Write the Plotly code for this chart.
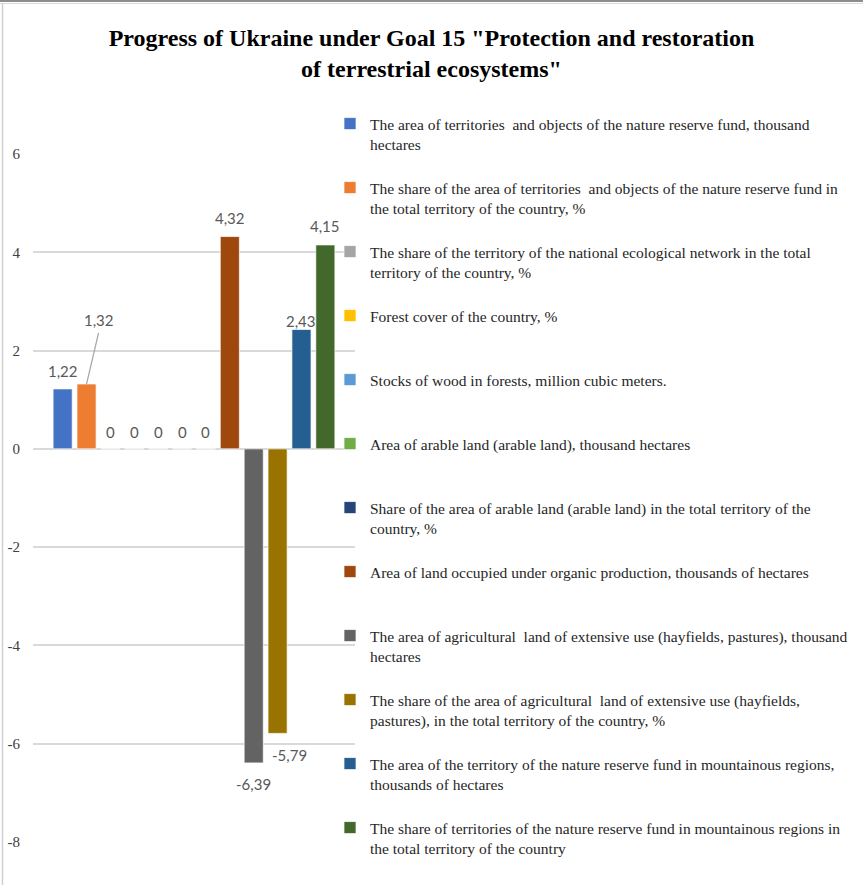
import plotly.graph_objects as go

# ---- data ---------------------------------------------------------------
indicators = [
    "The area of territories  and objects of the nature reserve fund, thousand<br>hectares",
    "The share of the area of territories  and objects of the nature reserve fund in<br>the total territory of the country, %",
    "The share of the territory of the national ecological network in the total<br>territory of the country, %",
    "Forest cover of the country, %<br> ",
    "Stocks of wood in forests, million cubic meters.<br> ",
    "Area of arable land (arable land), thousand hectares<br> ",
    "Share of the area of arable land (arable land) in the total territory of the<br>country, %",
    "Area of land occupied under organic production, thousands of hectares<br> ",
    "The area of agricultural  land of extensive use (hayfields, pastures), thousand<br>hectares",
    "The share of the area of agricultural  land of extensive use (hayfields,<br>pastures), in the total territory of the country, %",
    "The area of the territory of the nature reserve fund in mountainous regions,<br>thousands of hectares",
    "The share of territories of the nature reserve fund in mountainous regions in<br>the total territory of the country",
]
progress = [1.22, 1.32, 0, 0, 0, 0, 0, 4.32, -6.39, -5.79, 2.43, 4.15]
colors = ["#4472C4", "#ED7D31", "#A5A5A5", "#FFC000", "#5B9BD5", "#70AD47",
          "#264478", "#9E480E", "#636363", "#997300", "#255E91", "#43682B"]
y_ticks = [-8, -6, -4, -2, 0, 2, 4, 6]
y_tick_text = ["-8", "-6", "-4", "-2", "0", "2", "4", "6"]

# ---- geometry -----------------------------------------------------------
W, H = 863, 885
ML, MR, MT, MB = 33, 508, 154, 43
BARGAP, GROUPGAP = 0.11, 0.2
n = len(progress)

# label offsets (pixels) relative to the bar end: (xshift, yshift)
label_shift = [(0, 18), (12, 64), (0, 17), (0, 17), (0, 17), (0, 17), (0, 17),
               (0, 19), (0, -21), (12, -22), (0, 8), (0, 19)]


def fmt(v):
    return "0" if v == 0 else f"{v:.2f}".replace(".", ",")


def slot_center(i):
    slot = (1 - BARGAP) / n
    return -0.5 + BARGAP / 2 + (i + 0.5) * slot


fig = go.Figure()
for i, (name, val, col) in enumerate(zip(indicators, progress, colors)):
    fig.add_trace(go.Bar(
        x=["Goal 15"], y=[val], name=name, legendgroup=f"g{i}",
        marker=dict(color=col, line=dict(color="rgba(255,255,255,0.7)", width=1)),
        hoverinfo="skip",
    ))

annotations = []
for i, val in enumerate(progress):
    dx, dy = label_shift[i]
    annotations.append(dict(
        x=slot_center(i), y=val, xref="x", yref="y", text=fmt(val),
        showarrow=False, xshift=dx, yshift=dy, yanchor="middle",
        font=dict(family="Lato", size=15, color="#595959"),
    ))

shapes = [
    # leader line for the second label
    dict(type="line", xref="x", yref="y", xsizemode="pixel", ysizemode="pixel",
         xanchor=slot_center(1), yanchor=progress[1], x0=0, y0=0, x1=12, y1=51,
         line=dict(color="#A6A6A6", width=1.2)),
]


def px(xp):
    return (xp - ML) / (W - ML - MR)


def py(yp):
    return (H - MB - yp) / (H - MT - MB)


# outer frame of the chart area
shapes += [
    dict(type="rect", xref="paper", yref="paper", x0=px(0), x1=px(W), y0=py(2), y1=py(0),
         fillcolor="#8C8C8C", line=dict(width=0), layer="below"),
    dict(type="line", xref="paper", yref="paper", x0=px(0), x1=px(W), y0=py(3.5), y1=py(3.5),
         line=dict(color="#D9D9D9", width=1)),
    dict(type="line", xref="paper", yref="paper", x0=px(2.5), x1=px(2.5), y0=py(H), y1=py(3),
         line=dict(color="#D0D0D0", width=1.5)),
]

fig.update_layout(
    width=W, height=H,
    margin=dict(l=ML, r=MR, t=MT, b=MB, autoexpand=False),
    paper_bgcolor="white", plot_bgcolor="white",
    separators=", ",
    barmode="group", bargap=BARGAP, bargroupgap=GROUPGAP,
    title=dict(
        text="Progress of Ukraine under Goal 15 \"Protection and restoration<br>of terrestrial ecosystems\"",
        x=0.5, xref="container", xanchor="center",
        y=1 - 46 / H, yref="container", yanchor="top",
        font=dict(family="Liberation Serif", size=24, color="#000000", weight="bold"),
    ),
    xaxis=dict(showticklabels=False, showgrid=False, zeroline=False, showline=False,
               ticks="", fixedrange=True),
    yaxis=dict(range=[-8, 6], tickvals=y_ticks, ticktext=y_tick_text,
               showgrid=True, gridcolor="#D9D9D9",
               gridwidth=1.5, zeroline=True, zerolinecolor="#D9D9D9", zerolinewidth=1.5,
               showline=False, ticks="", ticklabelstandoff=12,
               tickfont=dict(family="Liberation Serif", size=15, color="#404040")),
    legend=dict(
        x=px(330), xanchor="left", y=py(107), yanchor="top",
        valign="top", tracegroupgap=20.7, bgcolor="rgba(0,0,0,0)", maxheight=1000,
        font=dict(family="Liberation Serif", size=15.5, color="#262626"),
    ),
    annotations=annotations,
    shapes=shapes,
    showlegend=True,
)

fig.write_html("out.html")
